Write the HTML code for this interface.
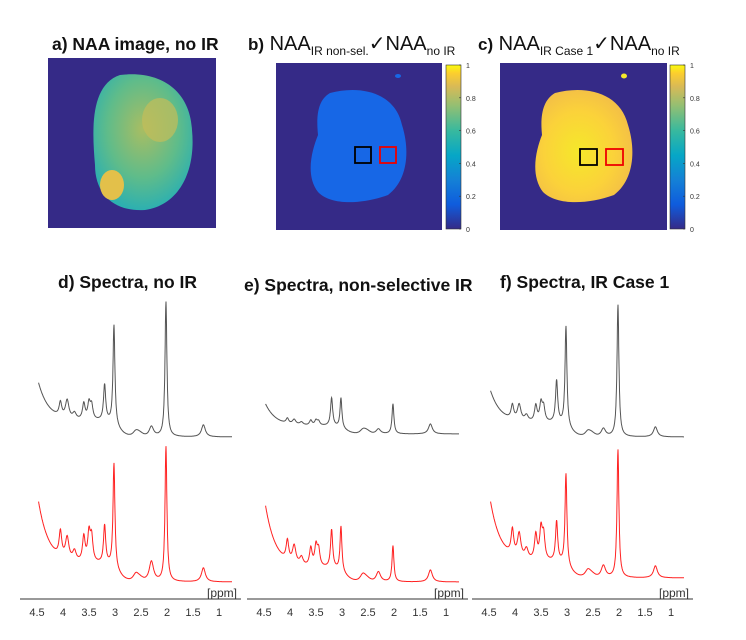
<!DOCTYPE html>
<html><head><meta charset="utf-8">
<style>
body{margin:0;background:#fff;width:746px;height:640px;overflow:hidden;font-family:"Liberation Sans",sans-serif}
svg{position:absolute;left:0;top:0}
</style></head><body>
<svg width="746" height="640" viewBox="0 0 746 640">
<defs>
<linearGradient id="parula" x1="0" y1="1" x2="0" y2="0">
<stop offset="0" stop-color="#352a87"/><stop offset="0.15" stop-color="#0f5cdd"/>
<stop offset="0.3" stop-color="#1481d6"/><stop offset="0.45" stop-color="#06a7c6"/>
<stop offset="0.6" stop-color="#38b99e"/><stop offset="0.75" stop-color="#92bf73"/>
<stop offset="0.87" stop-color="#d9ba56"/><stop offset="0.95" stop-color="#fcce2e"/>
<stop offset="1" stop-color="#f9fb0e"/></linearGradient>
<radialGradient id="cglow" cx="0.45" cy="0.55" r="0.6"><stop offset="0" stop-color="#f5e82a"/><stop offset="0.6" stop-color="#fbd23a"/><stop offset="1" stop-color="#f2bd48"/></radialGradient>
<radialGradient id="aglow" cx="0.5" cy="0.4" r="0.6"><stop offset="0" stop-color="#a9bd62"/><stop offset="0.6" stop-color="#5fbc8a"/><stop offset="1" stop-color="#2db0b0"/></radialGradient>
</defs>
<g font-weight="bold" font-size="17.5" fill="#111">
<text x="52" y="50">a) NAA image, no IR</text>
<text x="58" y="288">d) Spectra, no IR</text>
<text x="244" y="291">e) Spectra, non-selective IR</text>
<text x="500" y="288">f) Spectra, IR Case 1</text>
</g>
<text x="248" y="50" font-size="20" fill="#111"><tspan font-weight="bold" font-size="17">b)</tspan> NAA<tspan font-size="12" dy="5">IR non-sel.</tspan><tspan dy="-5">✓NAA</tspan><tspan font-size="12" dy="5">no IR</tspan></text>
<text x="478" y="50" font-size="20" fill="#111"><tspan font-weight="bold" font-size="17">c)</tspan> NAA<tspan font-size="12" dy="5">IR Case 1</tspan><tspan dy="-5">✓NAA</tspan><tspan font-size="12" dy="5">no IR</tspan></text>

<g>
<rect x="48" y="58" width="168" height="170" fill="#352a87"/>
<path d="M120,75 C160,70 190,90 192,130 C196,170 180,205 145,210 C115,212 95,195 95,165 C92,130 90,85 120,75Z" fill="url(#aglow)"/>
<ellipse cx="112" cy="185" rx="12" ry="15" fill="#e3c04a"/>
<ellipse cx="160" cy="120" rx="18" ry="22" fill="#c3be5a" opacity="0.7"/>
</g>
<g>
<rect x="276" y="63" width="166" height="167" fill="#352a87"/>
<path d="M330,93 C360,85 395,92 402,125 C410,150 408,180 388,195 C360,205 330,205 318,192 C305,175 312,150 318,135 C316,115 318,100 330,93Z" fill="#1767e6"/>
<ellipse cx="398" cy="76" rx="3" ry="2" fill="#1767e6"/>
<rect x="355" y="147" width="16" height="16" fill="none" stroke="#000" stroke-width="1.8"/>
<rect x="380" y="147" width="16" height="16" fill="none" stroke="#e00" stroke-width="1.8"/>
</g>
<g>
<rect x="500" y="63" width="167" height="167" fill="#352a87"/>
<path d="M555,93 C585,85 620,92 628,125 C636,150 634,180 614,195 C586,205 556,205 543,192 C530,175 536,150 542,135 C540,115 543,100 555,93Z" fill="url(#cglow)"/>
<ellipse cx="624" cy="76" rx="3" ry="2.5" fill="#f5e82a"/>
<rect x="580" y="149" width="17" height="16" fill="none" stroke="#000" stroke-width="1.8"/>
<rect x="606" y="149" width="17" height="16" fill="none" stroke="#e00" stroke-width="1.8"/>
</g>
<g id="cbars"></g>
<g id="spectra"></g>
</svg>
<script>
const ns="http://www.w3.org/2000/svg";
const cbTicks=[0,0.2,0.4,0.6,0.8,1];
const cbLabels=["0","0.2","0.4","0.6","0.8","1"];
const axisTicks=[4.5,4,3.5,3,2.5,2,1.5,1];
const axisLabels=["4.5","4","3.5","3","2.5","2","1.5","1"];
const peakPpm=[4.05,3.92,3.78,3.6,3.5,3.45,3.2,3.02,2.6,2.3,2.02,1.3];
const peakWidth=[0.03,0.04,0.04,0.03,0.03,0.03,0.025,0.022,0.06,0.05,0.022,0.045];
const dGray=[14,18,6,16,16,14,36,100,3,10,135,12];
const dRed=[25,22,10,25,28,24,38,105,5,20,135,14];
const eGray=[5,5,3,5,5,4,28,30,2,5,30,10];
const eRed=[20,18,8,18,20,16,38,45,5,10,36,12];
const fGray=[14,16,6,16,18,14,42,100,3,8,132,10];
const fRed=[25,24,10,25,30,24,40,92,5,12,128,12];
const startH={dGray:38,dRed:62,eGray:22,eRed:62,fGray:32,fRed:60};
const stepH={dGray:16,dRed:18,eGray:8,eRed:14,fGray:14,fRed:16};
function el(t,a,p){const e=document.createElementNS(ns,t);for(const k in a)e.setAttribute(k,a[k]);p.appendChild(e);return e;}
const cb=document.getElementById('cbars');
[[446,65],[670,65]].forEach((p,i)=>{
 const r=el('rect',{x:p[0],y:p[1],width:15,height:164,fill:'url(#parula)',stroke:'#333','stroke-width':0.6},cb);
 
 
 cbTicks.forEach((v,j)=>{const y=p[1]+164-v*164;
  el('line',{x1:p[0]+13,x2:p[0]+15,y1:y,y2:y,stroke:'#333','stroke-width':0.6},cb);
  const t=el('text',{x:p[0]+20,y:y+3,'font-size':7,fill:'#333'},cb);t.textContent=cbLabels[j];
  
  });
});
const sp=document.getElementById('spectra');
const panels=[{x0:37,g:dGray,r:dRed,gb:437,rb:582,k:'d'},{x0:264,g:eGray,r:eRed,gb:434,rb:582,k:'e'},{x0:489,g:fGray,r:fRed,gb:437,rb:578,k:'f'}];
const ppx=52;
panels.forEach(P=>{
 const xs=ppm=>P.x0+(4.5-ppm)*ppx;
 [[P.g,P.gb,'#555',P.k+'Gray'],[P.r,P.rb,'#f22',P.k+'Red']].forEach(s=>{
  let d='';
  for(let ppm=4.47;ppm>=0.75;ppm-=0.005){
   let h=startH[s[3]]*Math.exp(-(4.47-ppm)/0.2)+stepH[s[3]]/(1+Math.exp((2.95-ppm)/0.08))+4*Math.exp(-Math.pow((ppm-2.55)/0.1,2));
   s[0].forEach((a,i)=>{const w=peakWidth[i];const dx=ppm-peakPpm[i];h+=a*w*w/(dx*dx+w*w);});
   d+=(d?'L':'M')+xs(ppm).toFixed(1)+','+(s[1]-h).toFixed(1);
  }
  const p=el('path',{d:d,fill:'none',stroke:s[2],'stroke-width':1},sp);
  
  
 });
 const ax=el('line',{x1:P.x0-17,x2:P.x0+204,y1:599,y2:599,stroke:'#333','stroke-width':1},sp);
 
 
 axisTicks.forEach((v,j)=>{const t=el('text',{x:xs(v),y:616,'font-size':11,fill:'#333','text-anchor':'middle'},sp);t.textContent=axisLabels[j];
  
  });
 const u=el('text',{x:P.x0+170,y:597,'font-size':12,fill:'#333'},sp);u.textContent='[ppm]';
 
 
});
</script>
</body></html>
